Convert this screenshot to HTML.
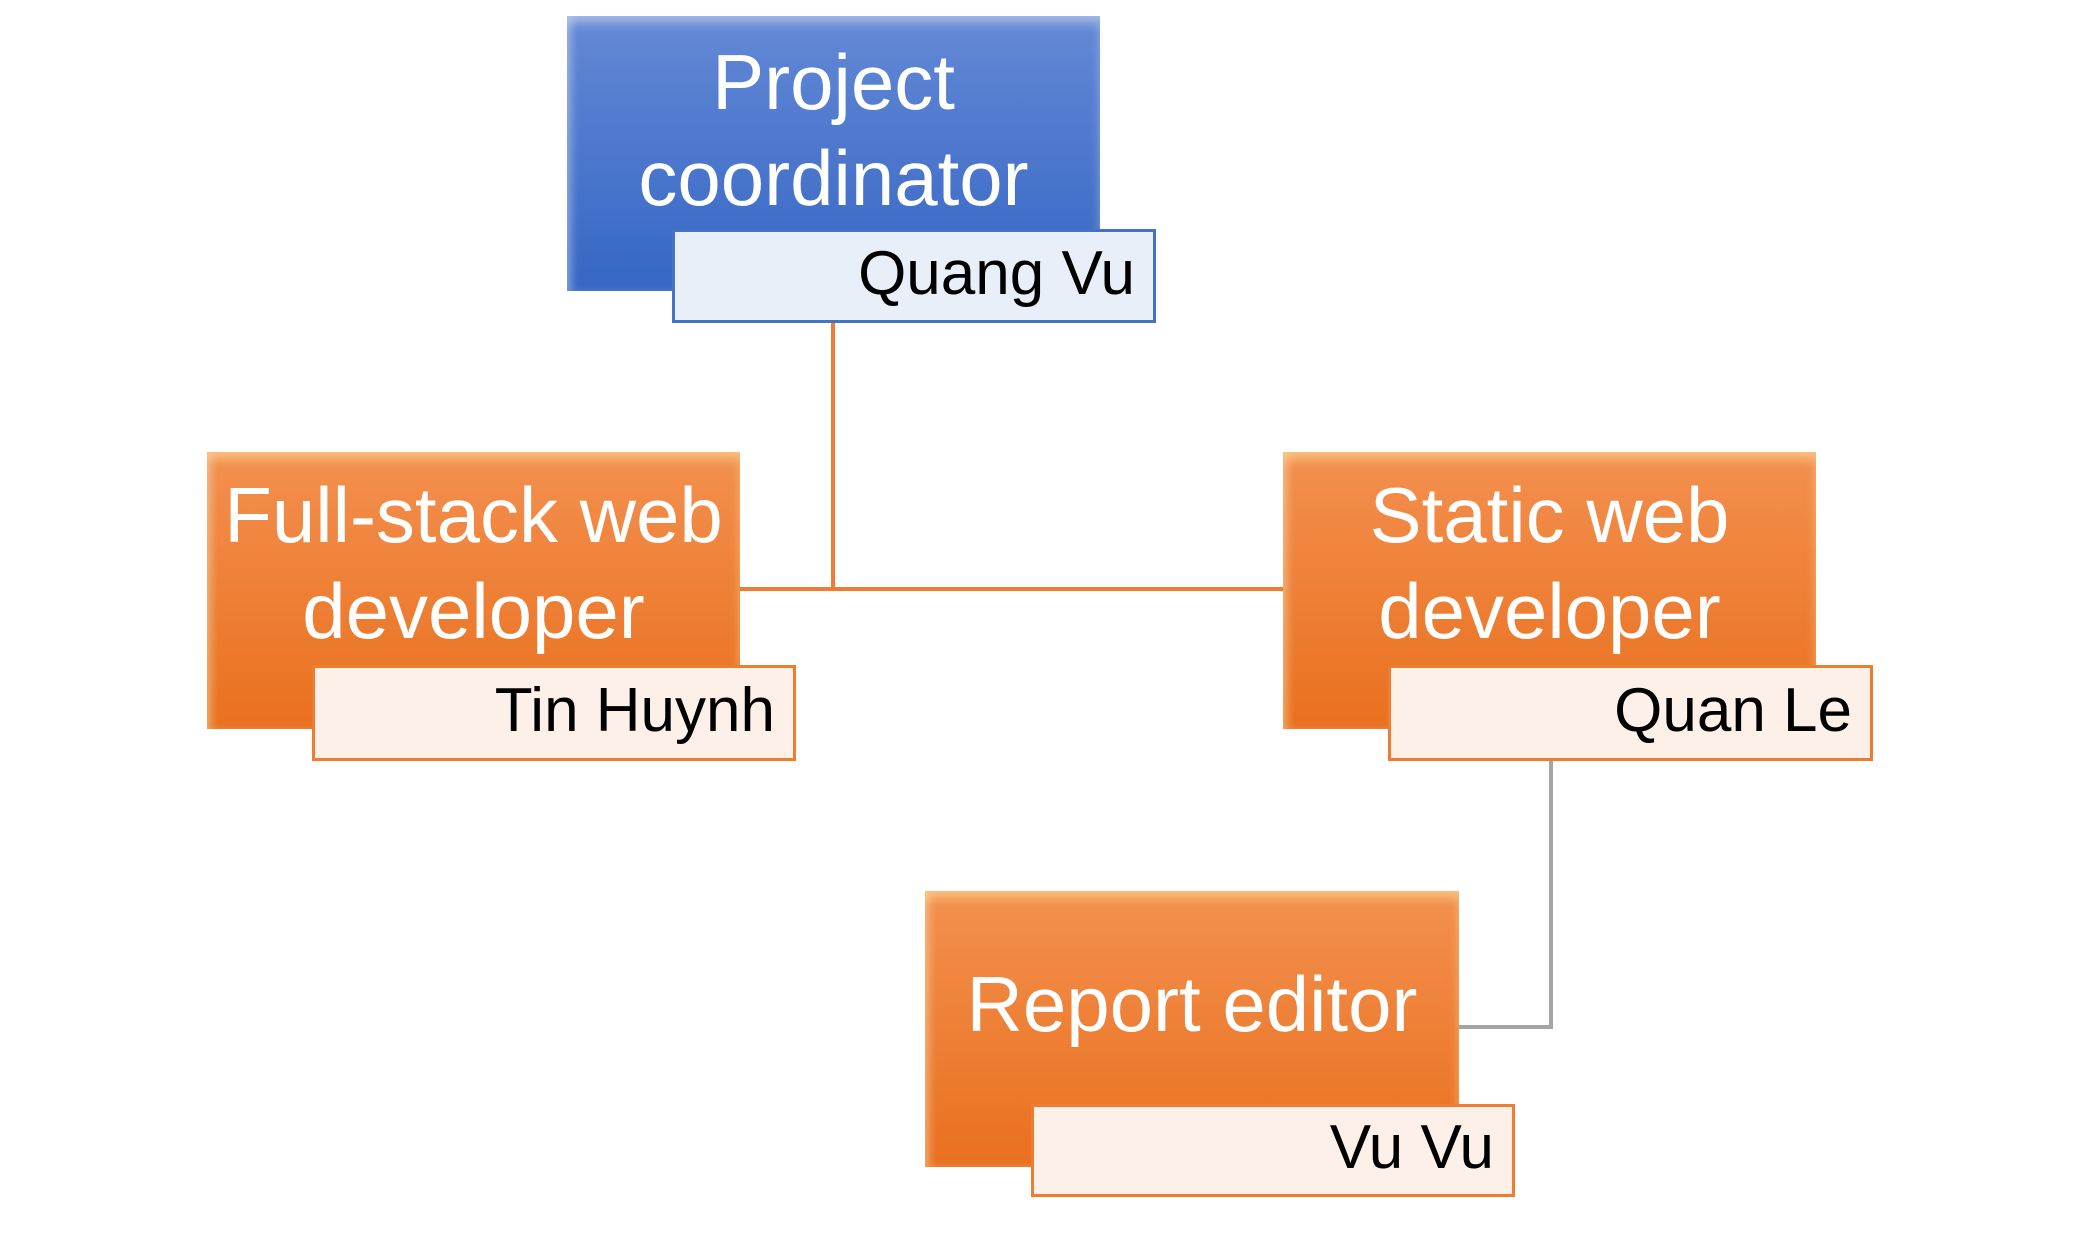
<!DOCTYPE html>
<html><head><style>
body{margin:0;width:2080px;height:1237px;background:#fff;position:relative;overflow:hidden;font-family:"Liberation Sans",sans-serif}
.box{position:absolute;color:#fff;display:flex;align-items:center;justify-content:center;text-align:center;font-size:78px;line-height:96px;box-sizing:border-box;white-space:nowrap}
.blue{background:linear-gradient(#6489d6,#3566c4);box-shadow:inset 0 8px 10px rgba(255,255,255,.35),inset 6px 0 8px rgba(255,255,255,.2)}
.or{background:linear-gradient(#f3904f,#e9701e);box-shadow:inset 0 8px 10px rgba(255,230,160,.5),inset 6px 0 8px rgba(255,255,255,.2)}
.lab{position:absolute;box-sizing:border-box;font-size:62px;color:#000;text-align:right;padding-right:18px;padding-bottom:6px;display:flex;align-items:center;justify-content:flex-end}
.lb{border:3px solid #4472c4;background:#e9eff9}
.lo{border:3px solid #ed7d31;background:#fcf0e8}
.line{position:absolute}
</style></head><body>
<div class="line" style="left:831px;top:300px;width:4px;height:291px;background:#ed7d31"></div>
<div class="line" style="left:740px;top:587px;width:543px;height:4px;background:#ed7d31"></div>
<div class="line" style="left:1549px;top:740px;width:4px;height:289px;background:#a5a5a5"></div>
<div class="line" style="left:1459px;top:1025px;width:94px;height:4px;background:#a5a5a5"></div>

<div class="box blue" style="left:567px;top:16px;width:533px;height:275px;padding-bottom:48px">Project<br>coordinator</div>
<div class="lab lb" style="left:672px;top:229px;width:484px;height:94px">Quang Vu</div>

<div class="box or" style="left:207px;top:452px;width:533px;height:277px;padding-bottom:56px">Full-stack web<br>developer</div>
<div class="lab lo" style="left:312px;top:665px;width:484px;height:96px">Tin Huynh</div>

<div class="box or" style="left:1283px;top:452px;width:533px;height:277px;padding-bottom:56px">Static web<br>developer</div>
<div class="lab lo" style="left:1388px;top:665px;width:485px;height:96px">Quan Le</div>

<div class="box or" style="left:925px;top:891px;width:534px;height:276px;padding-bottom:50px">Report editor</div>
<div class="lab lo" style="left:1031px;top:1104px;width:484px;height:93px">Vu Vu</div>
</body></html>
